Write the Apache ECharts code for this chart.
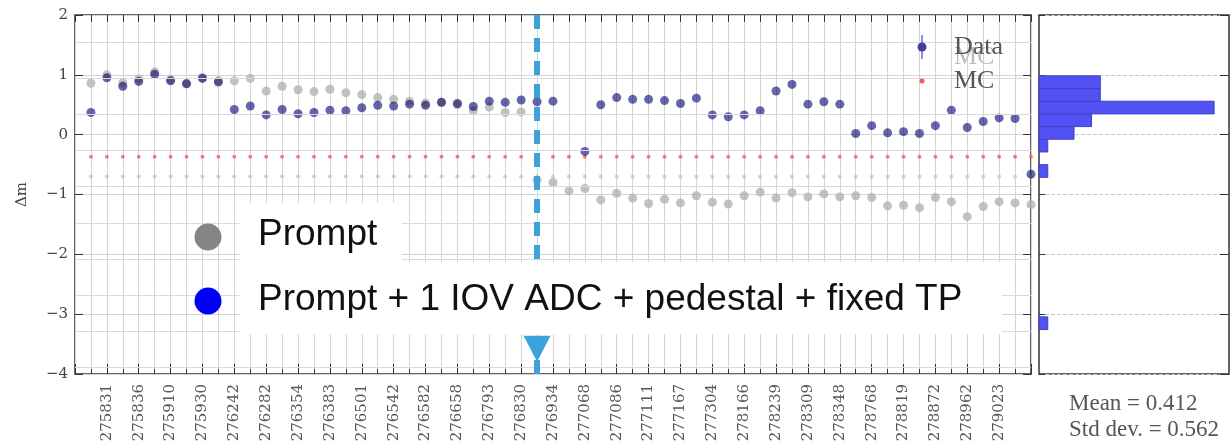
<!DOCTYPE html>
<html>
<head>
<meta charset="utf-8">
<script src="https://cdn.jsdelivr.net/npm/echarts@6/dist/echarts.min.js"></script>
<style>
  html, body { margin: 0; padding: 0; background: #fff; }
  #chart { width: 1230px; height: 447px; }
</style>
</head>
<body>
<div id="chart"></div>
<script>
// run numbers shown on the axis (every second run is labelled)
var runLabels = ['275831', '275836', '275910', '275930', '276242', '276282', '276354', '276383',
  '276501', '276542', '276582', '276658', '276793', '276830', '276934', '277068', '277086',
  '277111', '277167', '277304', '278166', '278239', '278309', '278348', '278768', '278819',
  '278872', '278962', '279023'];

// delta m per run, grey = Prompt
var promptValues = [0.86, 1.00, 0.87, 0.93, 1.05, 0.92, 0.86, 0.96, 0.90, 0.90,
  0.94, 0.73, 0.81, 0.75, 0.72, 0.76, 0.70, 0.67, 0.62, 0.59,
  0.56, 0.53, 0.54, 0.50, 0.40, 0.46, 0.37, 0.38, -0.76, -0.80,
  -0.94, -0.90, -1.09, -0.98, -1.06, -1.15, -1.08, -1.14, -1.02, -1.13,
  -1.16, -1.02, -0.96, -1.06, -0.97, -1.04, -0.99, -1.04, -1.02, -1.05,
  -1.19, -1.18, -1.22, -1.05, -1.12, -1.37, -1.20, -1.12, -1.14, -1.17];

// blue = Prompt + 1 IOV ADC + pedestal + fixed TP
var fixedValues = [0.37, 0.95, 0.81, 0.89, 1.01, 0.90, 0.85, 0.94, 0.88, 0.42,
  0.48, 0.33, 0.42, 0.35, 0.37, 0.41, 0.40, 0.45, 0.49, 0.48,
  0.51, 0.49, 0.54, 0.52, 0.47, 0.56, 0.54, 0.58, 0.55, 0.56,
  -3.15, -0.28, 0.50, 0.62, 0.59, 0.59, 0.57, 0.52, 0.61, 0.33,
  0.30, 0.33, 0.40, 0.73, 0.84, 0.51, 0.55, 0.51, 0.02, 0.15,
  0.03, 0.05, 0.02, 0.15, 0.41, 0.12, 0.22, 0.28, 0.27, -0.66];

// MC reference per run
var mcValues = [-0.37, -0.37, -0.37, -0.37, -0.37, -0.37, -0.37, -0.37, -0.37, -0.37,
  -0.37, -0.37, -0.37, -0.37, -0.37, -0.37, -0.37, -0.37, -0.37, -0.37,
  -0.37, -0.37, -0.37, -0.37, -0.37, -0.37, -0.37, -0.37, -0.37, -0.37,
  -0.37, -0.37, -0.37, -0.37, -0.37, -0.37, -0.37, -0.37, -0.37, -0.37,
  -0.37, -0.37, -0.37, -0.37, -0.37, -0.37, -0.37, -0.37, -0.37, -0.37,
  -0.37, -0.37, -0.37, -0.37, -0.37, -0.37, -0.37, -0.37, -0.37, -0.37];
var promptMcValues = [-0.70, -0.70, -0.70, -0.70, -0.70, -0.70, -0.70, -0.70, -0.70, -0.70,
  -0.70, -0.70, -0.70, -0.70, -0.70, -0.70, -0.70, -0.70, -0.70, -0.70,
  -0.70, -0.70, -0.70, -0.70, -0.70, -0.70, -0.70, -0.70, -0.70, -0.70,
  -0.70, -0.70, -0.70, -0.70, -0.70, -0.70, -0.70, -0.70, -0.70, -0.70,
  -0.70, -0.70, -0.70, -0.70, -0.70, -0.70, -0.70, -0.70, -0.70, -0.70,
  -0.70, -0.70, -0.70, -0.70, -0.70, -0.70, -0.70, -0.70, -0.70, -0.70];

// grid of the overlaid Prompt plot (shows through in the background)
var promptGridLevels = [1.55, 0.95, 0.345, -0.255, -0.865, -1.475, -2.08, -2.68, -3.28, -3.88];

// histogram of the blue points
var histLow = [-3.257, -0.713, -0.289, -0.077, 0.135, 0.347, 0.559, 0.771];
var histHigh = [-3.045, -0.501, -0.077, 0.135, 0.347, 0.559, 0.771, 0.983];
var histCount = [1, 1, 1, 4, 6, 20, 7, 7];

var fixRun = 28; // run index where the new calibration starts

// x position 0 is the empty slot left of the first run
function toPoints(values) {
  return values.map(function (v, i) { return [i + 1, v]; });
}
var histData = histLow.map(function (lo, i) { return [lo, histHigh[i], histCount[i]]; });

var serif = 'DejaVu Serif';
var chart = echarts.init(document.getElementById('chart'));

var option = {
  backgroundColor: '#fff',
  animation: false,
  grid: [
    { left: 75, top: 15, width: 956, height: 359, show: true, borderColor: '#333', borderWidth: 1.5 },
    { left: 1039, top: 15, width: 190, height: 359, show: true, borderColor: '#333', borderWidth: 1.5 }
  ],
  xAxis: [
    {
      type: 'value', gridIndex: 0, min: 0, max: 60, interval: 2,
      axisLine: { show: false, onZero: false },
      axisTick: { inside: true, length: 10, lineStyle: { color: '#333' } },
      minorTick: { show: true, splitNumber: 2, length: 5, lineStyle: { color: '#333' } },
      axisLabel: {
        rotate: 90, margin: 10, fontFamily: serif, fontSize: 15, color: '#555',
        formatter: function (v) { return runLabels[v / 2 - 1] || ''; }
      },
      splitLine: { show: true, lineStyle: { color: '#d4d4d4' } },
      minorSplitLine: { show: true, lineStyle: { color: '#d4d4d4' } }
    },
    {
      type: 'value', gridIndex: 0, position: 'top', min: 0, max: 60, interval: 1,
      axisLine: { show: false, onZero: false },
      axisTick: { inside: true, length: 7, lineStyle: { color: '#333' } },
      axisLabel: { show: false },
      splitLine: { show: false }
    },
    { type: 'value', gridIndex: 1, min: 0, max: 21.7, show: false, axisLine: { onZero: false } }
  ],
  yAxis: [
    {
      type: 'value', gridIndex: 0, min: -4, max: 2, interval: 1,
      name: 'Δm', nameLocation: 'middle', nameGap: 45, nameRotate: 90,
      nameTextStyle: { fontFamily: serif, fontSize: 15, color: '#444' },
      axisLine: { show: false, onZero: false },
      axisTick: { inside: true, length: 8, lineStyle: { color: '#333' } },
      axisLabel: {
        margin: 7, fontFamily: serif, fontSize: 15, color: '#444',
        formatter: function (v) { return v < 0 ? '\u2212' + Math.abs(v) : String(v); }
      },
      splitLine: { show: true, lineStyle: { color: '#d4d4d4' } }
    },
    {
      type: 'value', gridIndex: 0, position: 'right', min: -4, max: 2, interval: 1,
      axisLine: { show: false, onZero: false },
      axisTick: { inside: true, length: 8, lineStyle: { color: '#333' } },
      axisLabel: { show: false },
      splitLine: { show: false }
    },
    {
      type: 'value', gridIndex: 1, min: -4, max: 2, interval: 1,
      axisLine: { show: false, onZero: false },
      axisTick: { inside: true, length: 6, lineStyle: { color: '#333' } },
      axisLabel: { show: false },
      splitLine: { show: true, lineStyle: { color: '#c8c8c8', type: 'dashed' } }
    },
    {
      type: 'value', gridIndex: 1, position: 'right', min: -4, max: 2, interval: 1,
      axisLine: { show: false, onZero: false },
      axisTick: { inside: true, length: 9, lineStyle: { color: '#333' } },
      axisLabel: { show: false },
      splitLine: { show: false }
    }
  ],
  series: [
    {
      name: 'Prompt MC', type: 'scatter', xAxisIndex: 0, yAxisIndex: 0,
      symbolSize: 4, itemStyle: { color: '#c4c4c4' },
      data: toPoints(promptMcValues),
      markLine: {
        silent: true, symbol: ['none', 'none'], label: { show: false },
        lineStyle: { color: '#dadada', width: 1, type: 'solid' },
        data: promptGridLevels.map(function (v) { return { yAxis: v }; })
      }
    },
    {
      name: 'MC', type: 'scatter', xAxisIndex: 0, yAxisIndex: 0,
      symbolSize: 4, itemStyle: { color: '#f25c5c' },
      data: toPoints(mcValues),
      markLine: {
        silent: true, symbol: ['none', 'none'], label: { show: false },
        lineStyle: { color: '#3ca3da', width: 6, type: [14, 9] },
        data: [{ xAxis: fixRun + 1 }]
      },
      markPoint: {
        silent: true, symbol: 'triangle', symbolSize: [27, 26], symbolRotate: 180,
        label: { show: false }, itemStyle: { color: '#3ca3da' },
        data: [{ coord: [fixRun + 1, -3.58] }]
      }
    },
    {
      name: 'Prompt', type: 'scatter', xAxisIndex: 0, yAxisIndex: 0,
      symbolSize: 9, itemStyle: { color: '#b3b3b3' },
      data: toPoints(promptValues)
    },
    {
      name: 'Data', type: 'scatter', xAxisIndex: 0, yAxisIndex: 0,
      symbolSize: 9, itemStyle: { color: '#40409a' }, blendMode: 'multiply',
      data: toPoints(fixedValues)
    },
    {
      name: 'Histogram', type: 'custom', xAxisIndex: 2, yAxisIndex: 2,
      encode: { x: 2, y: [0, 1] },
      renderItem: function (params, api) {
        var top = api.coord([0, api.value(1)]);
        var bottom = api.coord([api.value(2), api.value(0)]);
        return {
          type: 'rect',
          shape: { x: top[0], y: top[1], width: bottom[0] - top[0], height: bottom[1] - top[1] },
          style: { fill: '#5252f4', stroke: '#4040c8', lineWidth: 1 }
        };
      },
      data: histData
    }
  ],
  graphic: {
    elements: [
      // Data / MC key
      { type: 'text', z: 49, style: { text: 'MC', x: 954, y: 57, verticalAlign: 'middle', font: '26px "Liberation Serif"', fill: '#bdbdbd' } },
      { type: 'line', z: 50, shape: { x1: 922, y1: 35, x2: 922, y2: 59 }, style: { stroke: '#6a6ad8', lineWidth: 1.5 } },
      { type: 'circle', z: 50, shape: { cx: 922, cy: 47, r: 4.5 }, style: { fill: '#40409a' } },
      { type: 'text', z: 50, style: { text: 'Data', x: 954, y: 47, verticalAlign: 'middle', font: '26px "Liberation Serif"', fill: '#555' } },
      { type: 'circle', z: 50, shape: { cx: 922, cy: 81, r: 2.5 }, style: { fill: '#f25c5c' } },
      { type: 'text', z: 50, style: { text: 'MC', x: 954, y: 81, verticalAlign: 'middle', font: '26px "Liberation Serif"', fill: '#555' } },
      // pasted slide key
      { type: 'rect', z: 100, shape: { x: 240, y: 203, width: 162, height: 61 }, style: { fill: '#fff' } },
      { type: 'rect', z: 100, shape: { x: 240, y: 262, width: 762, height: 72 }, style: { fill: '#fff' } },
      { type: 'circle', z: 101, shape: { cx: 208, cy: 237, r: 13.5 }, style: { fill: '#858585' } },
      { type: 'circle', z: 101, shape: { cx: 208, cy: 301, r: 13.5 }, style: { fill: '#0000f5' } },
      { type: 'text', z: 101, style: { text: 'Prompt', x: 258, y: 235, verticalAlign: 'middle', font: '37px "Liberation Sans"', fill: '#111' } },
      { type: 'text', z: 101, style: { text: 'Prompt + 1 IOV ADC + pedestal + fixed TP', x: 258, y: 300, verticalAlign: 'middle', font: '37px "Liberation Sans"', fill: '#111' } },
      // histogram summary
      { type: 'text', z: 50, style: { text: 'Mean = 0.412', x: 1069, y: 404, verticalAlign: 'middle', font: '23px "Liberation Serif"', fill: '#555' } },
      { type: 'text', z: 50, style: { text: 'Std dev. = 0.562', x: 1069, y: 430, verticalAlign: 'middle', font: '23px "Liberation Serif"', fill: '#555' } }
    ]
  }
};
option && chart.setOption(option);
</script>
</body>
</html>
